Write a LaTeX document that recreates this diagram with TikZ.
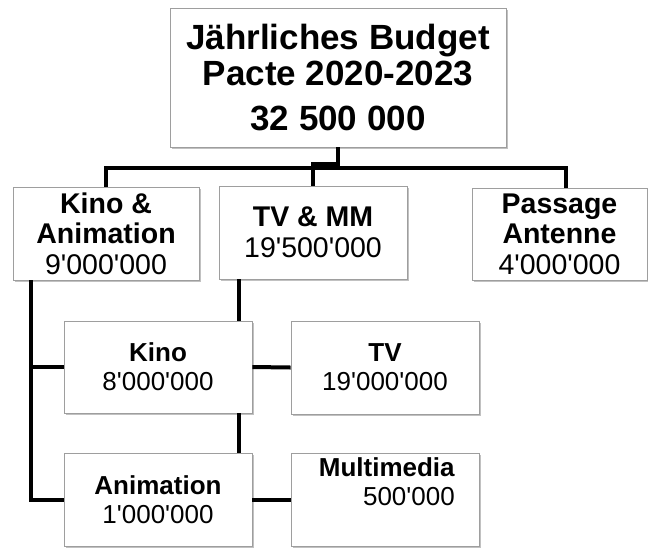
\documentclass[tikz,border=0pt]{standalone}
\usepackage{fontspec}
\setmainfont{Liberation Sans}[Ligatures=TeXOff]
\usetikzlibrary{shadows}
\begin{document}
\begin{tikzpicture}[x=1pt,y=-1pt,
  box/.style={draw=black!38, line width=0.8pt, fill=white, inner sep=0pt, align=center,
    drop shadow={shadow xshift=1.6pt, shadow yshift=-1.6pt, opacity=0.35, fill=black!70}},
  bigtxt/.style={font=\fontsize{35}{36}\selectfont\bfseries},
  midtxt/.style={font=\fontsize{28.5}{30.5}\selectfont},
  smalltxt/.style={font=\fontsize{26}{29}\selectfont},
  conn/.style={line width=4pt, draw=black}]
\useasboundingbox (0,0) rectangle (648,547);
\node[box, bigtxt, minimum width=336pt, minimum height=139pt] (top) at (338,77.5)
  {Jährliches Budget\\Pacte 2020-2023\\[9pt]32 500 000};
\node[box, midtxt, minimum width=186pt, minimum height=93pt] (ka) at (106,233.5)
  {\textbf{Kino \&}\\\textbf{Animation}\\9'000'000};
\node[box, midtxt, minimum width=188pt, minimum height=93pt] (tm) at (313,232.5)
  {\textbf{TV \& MM}\\19'500'000};
\node[box, midtxt, minimum width=175pt, minimum height=92pt] (pa) at (559.5,234)
  {\textbf{Passage}\\\textbf{Antenne}\\4'000'000};
\node[box, smalltxt, minimum width=188pt, minimum height=92pt] (kino) at (158,367)
  {\textbf{Kino}\\8'000'000};
\node[box, smalltxt, minimum width=188pt, minimum height=93pt] (tv) at (385,367.5)
  {\textbf{TV}\\19'000'000};
\node[box, smalltxt, minimum width=188pt, minimum height=93pt] (anim) at (158,499.5)
  {\textbf{Animation}\\1'000'000};
\node[box, minimum width=188pt, minimum height=93pt] (mm) at (385,499.5) {};
\node[smalltxt, align=right, inner sep=0pt, anchor=north east] (mmt) at (455,457)
  {\textbf{Multimedia}\\500'000};
\coordinate (j) at (338,167.5);
\coordinate (pj) at (566,188);
\coordinate (kaS) at (31,280);
\coordinate (tmS) at (239,279);
\draw[conn] (top.south) -- (top.south |- j) -| (ka.north);
\draw[conn] (top.south |- j) -| (pj);
\draw[conn] (top.south) -- ++(0,17) -| (tm.north);
\draw[conn] (kaS) |- (kino.west);
\draw[conn] (kaS) |- (anim.west);
\draw[conn] (tmS) -- (tmS |- kino.north);
\draw[conn] (kino.south -| tmS) -- (anim.north -| tmS);
\draw[conn] (kino.east) -- (tv.west);
\draw[conn] (anim.east) -- (mm.west);
\end{tikzpicture}
\end{document}
